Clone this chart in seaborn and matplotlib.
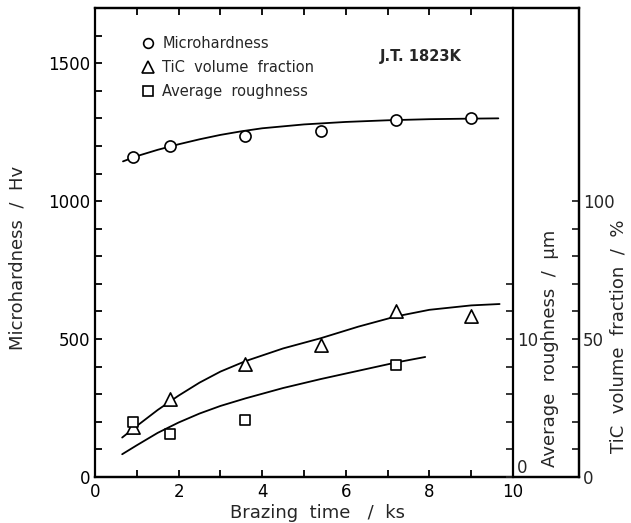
import matplotlib
matplotlib.use("Agg")
import matplotlib.pyplot as plt
import seaborn as sns
from matplotlib.lines import Line2D
from matplotlib.ticker import NullLocator

sns.set_theme(style="white")
plt.rcParams['font.family'] = ['DejaVu Sans']

# ---- data ----
time_pts = [0.9, 1.8, 3.6, 5.4, 7.2, 9.0]
hardness_pts = [1160, 1200, 1235, 1255, 1295, 1300]           # Hv
tic_pts = [18.1, 28.4, 40.8, 47.9, 60.3, 58.5]                 # %
rough_time = [0.9, 1.8, 3.6, 7.2]
rough_pts = [4.0, 3.1, 4.15, 8.1]                              # um

# fitted trend curves
hard_curve_t = [0.67, 1.0, 1.5, 2.0, 2.5, 3.0, 3.5, 4.0, 5.0, 6.0, 7.0, 8.0, 9.0, 9.65]
hard_curve_v = [1144, 1163, 1186, 1206, 1224, 1240, 1253, 1264, 1278, 1287, 1293, 1297, 1299, 1300]
tic_curve_t = [0.65, 1.0, 1.5, 2.0, 2.5, 3.0, 3.6, 4.5, 5.4, 6.3, 7.2, 8.0, 9.0, 9.68]
tic_curve_v = [14.3, 18.5, 24.3, 29.5, 34.2, 38.2, 42.0, 46.6, 50.3, 54.5, 58.2, 60.6, 62.2, 62.7]
rough_curve_t = [0.65, 1.0, 1.5, 2.0, 2.5, 3.0, 3.6, 4.5, 5.4, 6.3, 7.2, 7.9]
rough_curve_v = [1.65, 2.3, 3.2, 3.95, 4.6, 5.15, 5.7, 6.45, 7.1, 7.7, 8.3, 8.7]

x_major = [0, 2, 4, 6, 8, 10]
x_minor = [1, 3, 5, 7, 9]
hv_major = [0, 500, 1000, 1500]
hv_minor = [100, 200, 300, 400, 600, 700, 800, 900, 1100, 1200, 1300, 1400, 1600]
rough_ticks = [0, 2, 4, 6, 8, 10, 12, 14]
rough_labels = ['0', '', '', '', '', '10', '', '']
tic_ticks = [0, 10, 20, 30, 40, 50, 60, 70, 80, 90, 100]
tic_labels = ['0', '', '', '', '', '50', '', '', '', '', '100']

fig = plt.figure(figsize=(6.31, 5.23), dpi=100)
ax = fig.add_axes([95/631, 1-477/523, (579-95)/631, (477-8)/523])
ax_tic = ax.twinx()
ax_r = ax.twinx()

X_MAX = 11.58
for a in (ax, ax_tic, ax_r):
    a.set_xlim(0, X_MAX)
ax.set_ylim(0, 1700)
ax_tic.set_ylim(0, 170)
ax_r.set_ylim(0, 34)

lw = 1.3
ms = 8
# curves
sns.lineplot(x=hard_curve_t, y=hard_curve_v, ax=ax, color='black', lw=lw, sort=False)
sns.lineplot(x=tic_curve_t, y=tic_curve_v, ax=ax_tic, color='black', lw=lw, sort=False)
sns.lineplot(x=rough_curve_t, y=rough_curve_v, ax=ax_r, color='black', lw=lw, sort=False)
# points
sns.scatterplot(x=time_pts, y=hardness_pts, ax=ax, marker='o', s=ms**2,
                facecolor='white', edgecolor='black', linewidth=1.2, zorder=5)
sns.scatterplot(x=time_pts, y=tic_pts, ax=ax_tic, marker='^', s=(ms+1.5)**2,
                facecolor='white', edgecolor='black', linewidth=1.2, zorder=5)
sns.scatterplot(x=rough_time, y=rough_pts, ax=ax_r, marker='s', s=(ms-0.5)**2,
                facecolor='white', edgecolor='black', linewidth=1.2, zorder=5)

# spines
for a in (ax, ax_tic, ax_r):
    for s in a.spines.values():
        s.set_color('black')
        s.set_linewidth(1.6)
ax_r.spines['left'].set_visible(False)
ax_r.spines['top'].set_visible(False)
ax_r.spines['bottom'].set_visible(False)
ax_r.spines['right'].set_position(('data', 10))
ax_tic.spines['left'].set_visible(False)

tick_font = 12
# main axis ticks
ax.set_xticks(x_major)
ax.set_xticks(x_minor, minor=True)
ax.set_yticks(hv_major)
ax.set_yticks(hv_minor, minor=True)
ax.tick_params(axis='x', which='both', direction='in', length=5, width=1.3,
               top=True, bottom=True, labelsize=tick_font, colors='black', pad=4)
ax.tick_params(axis='y', which='both', direction='in', length=5, width=1.3,
               left=True, right=False, labelleft=True, labelright=False,
               labelsize=tick_font, colors='black')
ax.yaxis.set_ticks_position('left')

ax_tic.set_yticks(tic_ticks, tic_labels)
ax_tic.yaxis.set_minor_locator(NullLocator())
ax_tic.tick_params(axis='y', direction='in', length=5, width=1.3, labelsize=tick_font, pad=3,
                   left=False, labelleft=False)
ax_r.set_yticks(rough_ticks, rough_labels)
ax_r.yaxis.set_minor_locator(NullLocator())
ax_r.tick_params(axis='y', direction='in', length=5, width=1.3, labelsize=tick_font, pad=3,
                 left=False, labelleft=False)
# the roughness "0" sits just above the baseline in the reference
ax_r.get_yticklabels()[0].set_verticalalignment('bottom')

label_font = 13
ax.set_xlabel('Brazing  time   /  ks', fontsize=label_font)
ax.xaxis.set_label_coords(0.459, -0.058)
ax.set_ylabel('Microhardness  /  Hv', fontsize=label_font)
ax.yaxis.set_label_coords(-0.141, 0.468)
ax_r.set_ylabel('Average  roughness  /  \u03bcm', fontsize=label_font)
ax_r.yaxis.set_label_coords(0.922, 0.274)
ax_tic.set_ylabel('TiC  volume  fraction  /  %', fontsize=label_font)
ax_tic.yaxis.set_label_coords(1.062, 0.30)

# legend
handles = [
    Line2D([], [], ls='none', marker='o', mfc='white', mec='black', ms=7, mew=1.2),
    Line2D([], [], ls='none', marker='^', mfc='white', mec='black', ms=8, mew=1.2),
    Line2D([], [], ls='none', marker='s', mfc='white', mec='black', ms=7, mew=1.2),
]
leg = ax.legend(handles, ['Microhardness', 'TiC  volume  fraction', 'Average  roughness'],
                loc='upper left', bbox_to_anchor=(0.085, 0.952), frameon=False,
                handlelength=0.8, handletextpad=0.6, labelspacing=0.62,
                fontsize=10.5, borderaxespad=0)
ax.text(7.8, 1525, 'J.T. 1823K', fontsize=10.5, fontweight='bold', ha='center', va='center')

fig.savefig('out.png', dpi=100)
